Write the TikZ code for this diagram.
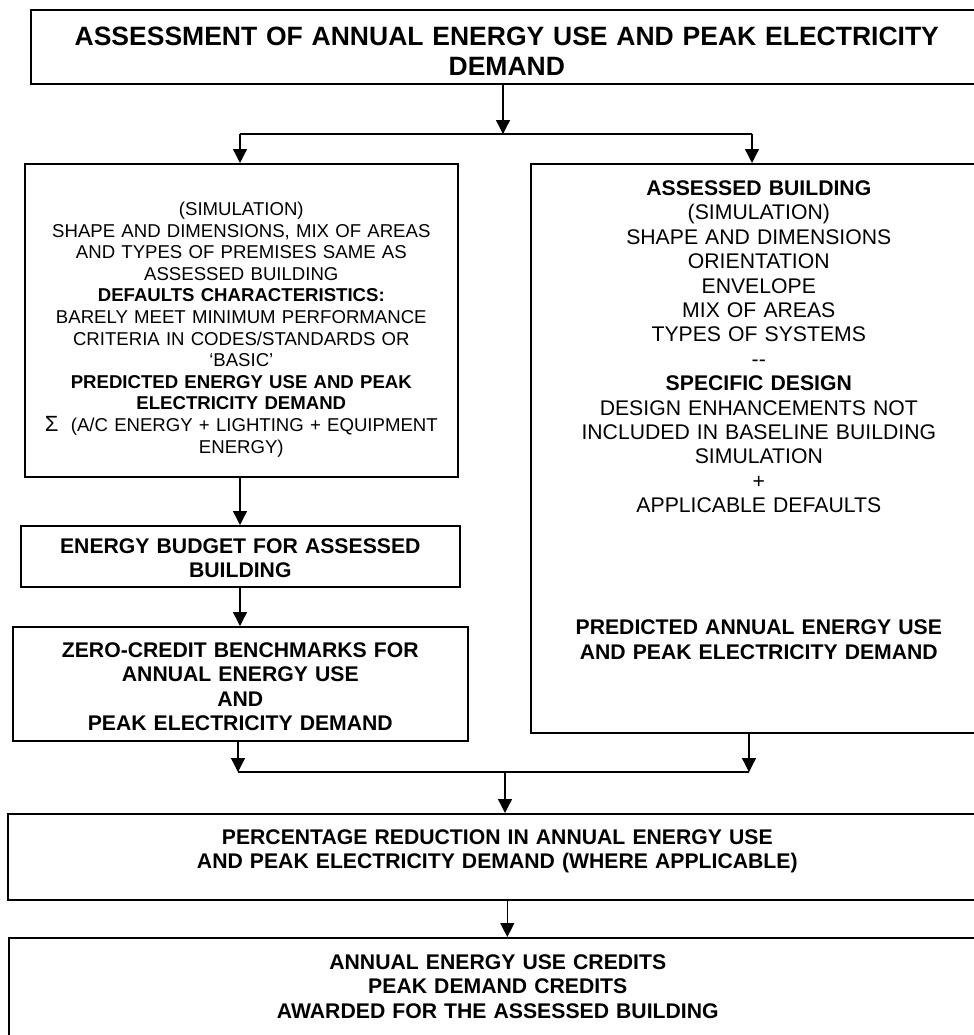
\documentclass[tikz,border=0pt]{standalone}
\usepackage{fontspec}
\setmainfont{Liberation Sans}
\usetikzlibrary{arrows.meta}

\tikzset{
  box/.style={draw, line width=1.6bp, inner sep=0pt, align=center, anchor=north west},
  small/.style={font=\fontsize{18.6bp}{21.6bp}\selectfont},
  normal/.style={font=\fontsize{21.2bp}{24.4bp}\selectfont},
  heavy/.style={font=\fontsize{21.2bp}{24.4bp}\selectfont\bfseries},
  flow/.style={line width=1.3bp, -{Triangle[width=14bp,length=14bp]}}
}

\begin{document}
\begin{tikzpicture}[x=1bp, y=-1bp]
    \clip (0,0) rectangle (974,1035);

    \node[box, font=\fontsize{26.5bp}{30bp}\selectfont\bfseries, text width=952bp,
      text height=35.5bp, text depth=38.5bp] (title) at (30,9)
      {ASSESSMENT OF ANNUAL ENERGY USE AND PEAK ELECTRICITY\\ DEMAND};

    \node[box, small, text width=433bp, text height=51.7bp, text depth=261.3bp] (sim) at (24,163)
      {(SIMULATION)\\
       SHAPE AND DIMENSIONS, MIX OF AREAS\\
       AND TYPES OF PREMISES SAME AS\\
       ASSESSED BUILDING\\
       \textbf{DEFAULTS CHARACTERISTICS:}\\
       BARELY MEET MINIMUM PERFORMANCE\\
       CRITERIA IN CODES/STANDARDS OR\\
       ‘BASIC’\\
       \textbf{PREDICTED ENERGY USE AND PEAK}\\
       \textbf{ELECTRICITY DEMAND}\\
       {\fontsize{22bp}{22bp}\selectfont Σ}~ (A/C ENERGY + LIGHTING + EQUIPMENT\\
       ENERGY)};

    \node[box, normal, text width=456bp, text height=31.6bp, text depth=537.4bp] (assessed) at (530,163)
      {\textbf{ASSESSED BUILDING}\\
       (SIMULATION)\\
       SHAPE AND DIMENSIONS\\
       ORIENTATION\\
       ENVELOPE\\
       MIX OF AREAS\\
       TYPES OF SYSTEMS\\
       -{}-\\
       \textbf{SPECIFIC DESIGN}\\
       DESIGN ENHANCEMENTS NOT\\
       INCLUDED IN BASELINE BUILDING\\
       SIMULATION\\
       +\\
       APPLICABLE DEFAULTS\\[4\baselineskip]
       \textbf{PREDICTED ANNUAL ENERGY USE}\\
       \textbf{AND PEAK ELECTRICITY DEMAND}};

    \node[box, heavy, text width=439bp, text height=27.6bp, text depth=33.4bp] (budget) at (20,525)
      {ENERGY BUDGET FOR ASSESSED\\ BUILDING};

    \node[box, heavy, text width=455bp, text height=30.6bp, text depth=83.4bp] (zero) at (12,626)
      {ZERO-CREDIT BENCHMARKS FOR\\ ANNUAL ENERGY USE\\ AND\\ PEAK ELECTRICITY DEMAND};

    \node[box, heavy, text width=979bp, text height=30.6bp, text depth=55.4bp] (reduction) at (7,813)
      {PERCENTAGE REDUCTION IN ANNUAL ENERGY USE\\ AND PEAK ELECTRICITY DEMAND (WHERE APPLICABLE)};

    \node[box, heavy, text width=978bp, text height=31.6bp, text depth=71.4bp] (credits) at (8,937)
      {ANNUAL ENERGY USE CREDITS\\ PEAK DEMAND CREDITS\\ AWARDED FOR THE ASSESSED BUILDING};

    % branch to the two simulations
    \coordinate (split) at (503,134);
    \coordinate (ldrop) at (240,134);
    \coordinate (rdrop) at (752,134);
    \draw[flow] (title.south -| split) -- (split);
    \draw[line width=1.3bp] (ldrop) -- (rdrop);
    \draw[flow] (ldrop) -- (ldrop |- sim.north);
    \draw[flow] (rdrop) -- (rdrop |- assessed.north);

    % baseline column
    \draw[flow] (sim.south -| ldrop) -- (ldrop |- budget.north);
    \draw[flow] (budget.south -| ldrop) -- (ldrop |- zero.north);

    % merge
    \coordinate (lmerge) at (238,772);
    \coordinate (rmerge) at (749,772);
    \coordinate (merge) at (505,772);
    \draw[flow] (zero.south -| lmerge) -- (lmerge);
    \draw[flow] (assessed.south -| rmerge) -- (rmerge);
    \draw[line width=1.3bp] (lmerge) -- (rmerge);
    \draw[flow] (merge) -- (merge |- reduction.north);
    \draw[flow] ([xshift=10bp]reduction.south) -- ([xshift=10bp]reduction.south |- credits.north);
\end{tikzpicture}
\end{document}
